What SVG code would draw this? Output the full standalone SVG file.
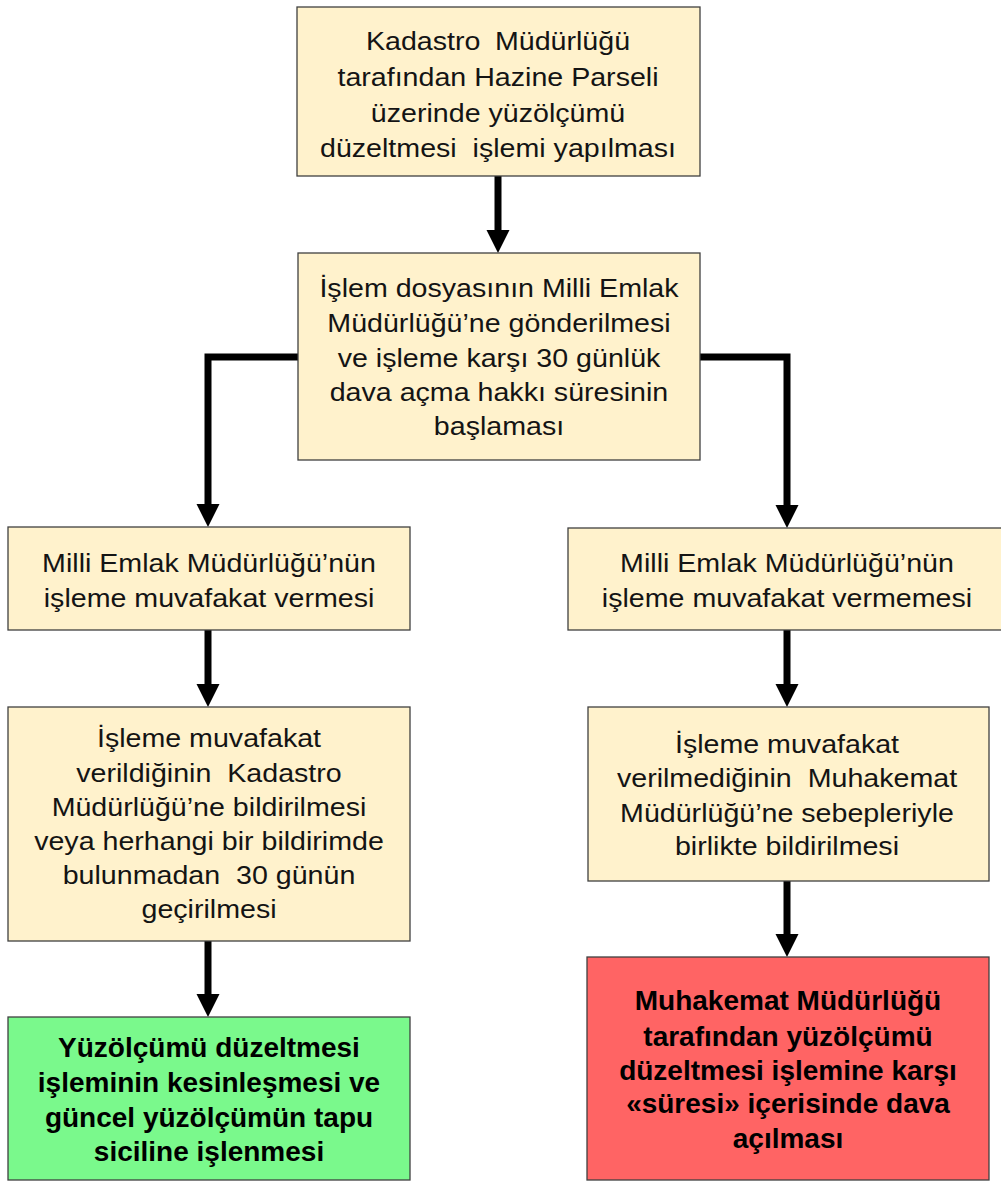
<svg xmlns="http://www.w3.org/2000/svg" width="1001" height="1182" viewBox="0 0 1001 1182">
<style>
.box{stroke:#404040;stroke-width:1.3}
.cream{fill:#FFF2CC}
.green{fill:#7AF98C}
.red{fill:#FF6464}
.t{font-family:"Liberation Sans",Arial,sans-serif;font-size:26px;fill:#141414;text-anchor:middle}
.b{font-family:"Liberation Sans",Arial,sans-serif;font-size:28px;font-weight:bold;fill:#000;text-anchor:middle}
.c{fill:none;stroke:#000;stroke-width:7;marker-end:url(#ah)}
</style>
<defs>
<marker id="ah" markerUnits="userSpaceOnUse" markerWidth="24" markerHeight="24" refX="0" refY="11.5" orient="auto" overflow="visible">
<path d="M0,0 L23,11.5 L0,23 Z" fill="#000"/>
</marker>
</defs>
<rect width="1001" height="1182" fill="#fff"/>
<g id="connectors">
<path class="c" d="M498,176 V230"/>
<path class="c" d="M298,357 H208 V504"/>
<path class="c" d="M700,357 H787 V505"/>
<path class="c" d="M208,630 V684"/>
<path class="c" d="M787,630 V684"/>
<path class="c" d="M208,941 V994"/>
<path class="c" d="M787,881 V934"/>
</g>
<g id="n1">
<rect class="box cream" x="297" y="7" width="403" height="169"/>
<g transform="translate(498 0) scale(1.1 1)">
<text class="t" x="0" y="50" word-spacing="6">Kadastro Müdürlüğü</text>
<text class="t" x="0" y="86">tarafından Hazine Parseli</text>
<text class="t" x="0" y="122">üzerinde yüzölçümü</text>
<text class="t" x="0" y="157" xml:space="preserve">düzeltmesi  işlemi yapılması</text>
</g>
</g>
<g id="n2">
<rect class="box cream" x="298" y="253" width="402" height="207"/>
<g transform="translate(499 0) scale(1.1 1)">
<text class="t" x="0" y="297">İşlem dosyasının Milli Emlak</text>
<text class="t" x="0" y="332">Müdürlüğü’ne gönderilmesi</text>
<text class="t" x="0" y="367">ve işleme karşı 30 günlük</text>
<text class="t" x="0" y="401">dava açma hakkı süresinin</text>
<text class="t" x="0" y="435">başlaması</text>
</g>
</g>
<g id="n3">
<rect class="box cream" x="8" y="527" width="402" height="103"/>
<g transform="translate(209 0) scale(1.1 1)">
<text class="t" x="0" y="572">Milli Emlak Müdürlüğü’nün</text>
<text class="t" x="0" y="607">işleme muvafakat vermesi</text>
</g>
</g>
<g id="n4">
<rect class="box cream" x="568" y="528" width="440" height="102"/>
<g transform="translate(787 0) scale(1.1 1)">
<text class="t" x="0" y="572">Milli Emlak Müdürlüğü’nün</text>
<text class="t" x="0" y="607">işleme muvafakat vermemesi</text>
</g>
</g>
<g id="n5">
<rect class="box cream" x="8" y="707" width="402" height="234"/>
<g transform="translate(209 0) scale(1.1 1)">
<text class="t" x="0" y="747">İşleme muvafakat</text>
<text class="t" x="0" y="782" xml:space="preserve">verildiğinin  Kadastro</text>
<text class="t" x="0" y="816">Müdürlüğü’ne bildirilmesi</text>
<text class="t" x="0" y="850">veya herhangi bir bildirimde</text>
<text class="t" x="0" y="884" xml:space="preserve">bulunmadan  30 günün</text>
<text class="t" x="0" y="918">geçirilmesi</text>
</g>
</g>
<g id="n6">
<rect class="box cream" x="588" y="707" width="401" height="174"/>
<g transform="translate(787 0) scale(1.1 1)">
<text class="t" x="0" y="753">İşleme muvafakat</text>
<text class="t" x="0" y="787" xml:space="preserve">verilmediğinin  Muhakemat</text>
<text class="t" x="0" y="822">Müdürlüğü’ne sebepleriyle</text>
<text class="t" x="0" y="855">birlikte bildirilmesi</text>
</g>
</g>
<g id="n7">
<rect class="box green" x="8" y="1017" width="402" height="163"/>
<text class="b" x="209" y="1057">Yüzölçümü düzeltmesi</text>
<text class="b" x="209" y="1092">işleminin kesinleşmesi ve</text>
<text class="b" x="209" y="1127">güncel yüzölçümün tapu</text>
<text class="b" x="209" y="1161">siciline işlenmesi</text>
</g>
<g id="n8">
<rect class="box red" x="587" y="957" width="402" height="223"/>
<text class="b" x="788" y="1010">Muhakemat Müdürlüğü</text>
<text class="b" x="788" y="1046">tarafından yüzölçümü</text>
<text class="b" x="788" y="1080">düzeltmesi işlemine karşı</text>
<text class="b" x="788" y="1113">«süresi» içerisinde dava</text>
<text class="b" x="788" y="1148">açılması</text>
</g>
</svg>
